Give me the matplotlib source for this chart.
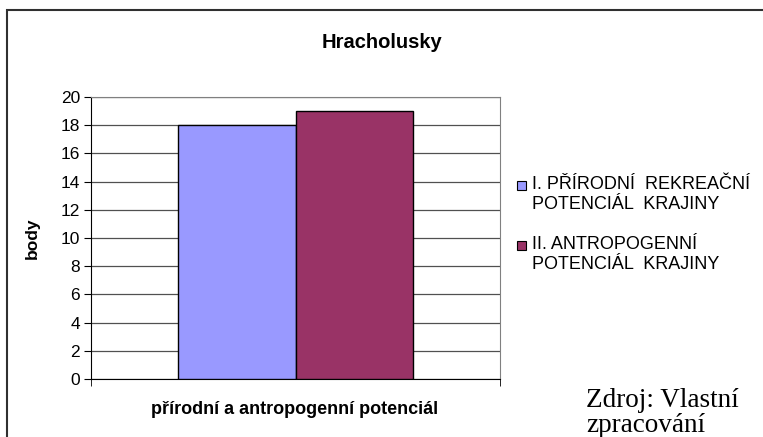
import matplotlib
matplotlib.use("Agg")
import matplotlib.pyplot as plt
from matplotlib.patches import Rectangle

title = "Hracholusky"
category = "přírodní a antropogenní potenciál"
series_labels = ["I. PŘÍRODNÍ  REKREAČNÍ\nPOTENCIÁL  KRAJINY",
                 "II. ANTROPOGENNÍ\nPOTENCIÁL  KRAJINY"]
series_values = [18, 19]
series_colors = ["#9999FF", "#993366"]
yticks = [0, 2, 4, 6, 8, 10, 12, 14, 16, 18, 20]
source_lines = ["Zdroj: Vlastní", "zpracování"]

W, H = 763, 437
plt.rcParams['font.family'] = ['Liberation Sans', 'DejaVu Sans']
fig = plt.figure(figsize=(W / 100, H / 100), dpi=100)

# outer chart border
fig.patches.append(Rectangle((7 / W, -0.05), 1.1, (437 - 10) / H + 0.05,
                             transform=fig.transFigure, fill=False,
                             edgecolor="#303030", linewidth=1.5))

L, R, T, B = 91, 500, 97, 379
ax = fig.add_axes([L / W, (H - B) / H, (R - L) / W, (B - T) / H])
bw = 117 / (R - L)
x0 = 0.5
for i, (v, c) in enumerate(zip(series_values, series_colors)):
    ax.bar(x0 - bw / 2 + i * bw, v, width=bw, color=c, edgecolor="black",
           linewidth=1.0, zorder=3)

ax.set_xlim(0, 1)
ax.set_ylim(0, 20)
ax.set_yticks(yticks)
ax.set_yticklabels([str(t) for t in yticks], fontsize=12.5)
ax.set_xticks([])
ax.set_xticks([0, 1], minor=True)
ax.tick_params(axis='x', which='minor', direction='out', length=5, color='black')
ax.tick_params(axis='y', direction='out', length=5, pad=3, color='black')
ax.yaxis.grid(True, color='#505050', linewidth=0.9, zorder=0)
ax.set_axisbelow(True)
for s in ['top', 'right']:
    ax.spines[s].set_color('#808080')
ax.spines['left'].set_color('black')
ax.spines['bottom'].set_color('black')

fig.text(32 / W, 1 - 238 / H, "body", rotation=90, ha='center', va='center',
         fontsize=12.5, fontweight='bold')
fig.text(295 / W, 1 - 410 / H, category, ha='center', va='center',
         fontsize=13, fontweight='bold')
fig.text(382 / W, 1 - 42 / H, title, ha='center', va='center',
         fontsize=14.5, fontweight='bold')

# legend
for i, (lab, c) in enumerate(zip(series_labels, series_colors)):
    ytop = 176 + i * 60
    fig.patches.append(Rectangle((517 / W, 1 - (ytop + 14) / H), 9 / W, 9 / H,
                                 transform=fig.transFigure, facecolor=c,
                                 edgecolor='black', linewidth=0.8))
    fig.text(532 / W, 1 - ytop / H, lab, ha='left', va='top', fontsize=13,
             linespacing=1.2)

for j, line in enumerate(source_lines):
    fig.text(586 / W, 1 - (407 + 25 * j) / H, line, ha='left', va='baseline',
             fontsize=19.5, family=['Liberation Serif'])

fig.savefig("out.png", dpi=100)
